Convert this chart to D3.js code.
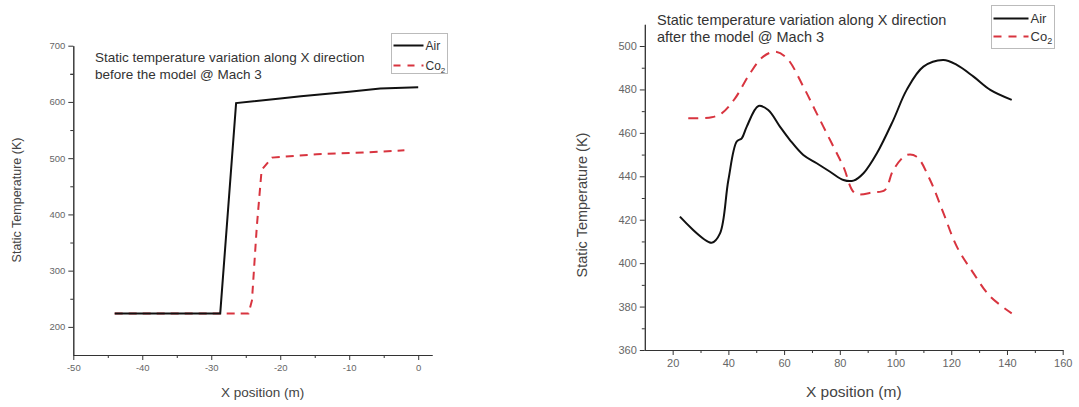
<!DOCTYPE html>
<html>
<head>
<meta charset="utf-8">
<script src="https://cdn.jsdelivr.net/npm/d3@7"></script>
<style>
  body { margin: 0; background: #fff; }
  svg { font-family: "Liberation Sans", Arial, sans-serif; }
</style>
</head>
<body>
<svg id="chart" width="1079" height="407"></svg>
<script>
// ---- data ----
// left panel: before the model
const beforeAir = [[-44, 224], [-28.7, 224], [-26.4, 598], [-20, 606], [-17, 610], [-10, 618], [-5.5, 624], [0, 626]];
const beforeCo2 = [[-44, 224], [-24.6, 224], [-24.1, 247], [-23.4, 378], [-22.7, 479], [-21.2, 501], [-14.7, 507], [-8, 510], [-2, 514]];
const beforeXTicks = [-50, -40, -30, -20, -10, 0];
const beforeYTicks = [200, 300, 400, 500, 600, 700];

// right panel: after the model
const afterAir = [[22.6, 421.4], [34, 409.4], [37, 413.7], [40, 438.3], [43, 456], [44.8, 457.5], [46.6, 462.9],
  [50.8, 472.4], [54.3, 470.5], [58.5, 462.9], [62.1, 456.7], [66.9, 449.8], [71.7, 446], [76.5, 442.1],
  [81.3, 438.3], [84.9, 438], [88.5, 441.4], [93.3, 450.6], [99.2, 465.9], [104, 479.8], [110, 490.5],
  [117.2, 493.6], [122, 491.3], [128, 485.9], [134, 479.8], [141.7, 475.2]];
const afterCo2 = [[25.6, 466.7], [34, 467.2], [37.6, 469], [42.4, 475.9], [47.8, 487.5], [52.5, 495.1],
  [56.8, 497.4], [61, 494.4], [66.9, 481.3], [71.7, 469], [77.1, 455.2], [81.3, 444.4], [85.5, 432.2],
  [92, 432.6], [96.2, 433.7], [99.2, 442.9], [104, 449.8], [107.6, 449], [112.4, 438.3], [117.2, 423],
  [122, 407.6], [128, 395.3], [134, 384.6], [141.7, 376.9]];
const afterXTicks = [20, 40, 60, 80, 100, 120, 140, 160];
const afterYTicks = [360, 380, 400, 420, 440, 460, 480, 500];

const titleLines = {
  before: ['Static temperature variation along X direction', 'before the model @ Mach 3'],
  after: ['Static temperature variation along X direction', 'after the model @ Mach 3']
};

const RED = '#d8343f';
const svg = d3.select('#chart');

function panel(cfg) {
  const x = d3.scaleLinear().domain(cfg.xDomain).range([cfg.left, cfg.right]);
  const y = d3.scaleLinear().domain(cfg.yDomain).range([cfg.bottom, cfg.top]);
  const g = svg.append('g');

  // minor ticks halfway between majors
  const half = (t) => t.slice(0, -1).map((v, i) => (v + t[i + 1]) / 2);
  const xMinor = half(cfg.xTicks).concat(cfg.xMinorExtra || []);
  const yMinor = half(cfg.yTicks).concat(cfg.yMinorExtra || []);

  g.append('g').attr('transform', `translate(0,${cfg.bottom})`)
    .call(d3.axisBottom(x).tickValues(xMinor).tickFormat('').tickSizeInner(3).tickSizeOuter(0));
  g.append('g').attr('transform', `translate(${cfg.left},0)`)
    .call(d3.axisLeft(y).tickValues(yMinor).tickFormat('').tickSizeInner(3).tickSizeOuter(0));

  // plain hyphen for negatives, like the original
  const fmt = d => String(d);
  const xa = g.append('g').attr('transform', `translate(0,${cfg.bottom})`)
    .call(d3.axisBottom(x).tickValues(cfg.xTicks).tickFormat(fmt).tickSizeInner(5).tickSizeOuter(0).tickPadding(4));
  const ya = g.append('g').attr('transform', `translate(${cfg.left},0)`)
    .call(d3.axisLeft(y).tickValues(cfg.yTicks).tickFormat(fmt).tickSizeInner(5).tickSizeOuter(0).tickPadding(3));

  g.selectAll('.domain, .tick line').attr('stroke', '#333').attr('stroke-width', 1);
  [xa, ya].forEach(a => a.selectAll('text')
    .attr('fill', '#666').style('font-size', cfg.tickFont + 'px').style('font-family', '"Liberation Sans", Arial, sans-serif'));

  // axis titles
  g.append('text')
    .attr('x', (cfg.left + cfg.right) / 2 + cfg.xTitleShift).attr('y', cfg.xTitleY)
    .attr('text-anchor', 'middle').attr('fill', '#444').style('font-size', cfg.xTitleFont + 'px')
    .text('X position (m)');
  g.append('text')
    .attr('transform', `translate(${cfg.yTitleX},${cfg.yTitleCY}) rotate(-90)`)
    .attr('text-anchor', 'middle').attr('fill', '#444').style('font-size', cfg.yTitleFont + 'px')
    .text('Static Temperature (K)');

  // series
  const line = d3.line().x(d => x(d[0])).y(d => y(d[1])).curve(cfg.curve);
  g.append('path').datum(cfg.co2).attr('d', line)
    .attr('fill', 'none').attr('stroke', RED).attr('stroke-width', 2)
    .attr('stroke-dasharray', cfg.dash);
  g.append('path').datum(cfg.air).attr('d', line)
    .attr('fill', 'none').attr('stroke', '#111').attr('stroke-width', 2);

  // title
  g.append('text').attr('x', cfg.titleX).attr('y', cfg.titleY)
    .attr('fill', '#333').style('font-size', cfg.titleFont + 'px')
    .selectAll('tspan').data(cfg.title).enter().append('tspan')
    .attr('x', cfg.titleX).attr('dy', (d, i) => i ? cfg.titleLead : 0).text(d => d);

  // legend
  const L = cfg.legend;
  const lg = g.append('g').attr('transform', `translate(${L.x},${L.y})`);
  lg.append('rect').attr('width', L.w).attr('height', L.h)
    .attr('fill', '#fff').attr('stroke', '#bbb').attr('stroke-width', 1);
  lg.append('line').attr('x1', 2).attr('x2', L.lineLen + 2).attr('y1', L.row1).attr('y2', L.row1)
    .attr('stroke', '#111').attr('stroke-width', 2);
  lg.append('line').attr('x1', 2).attr('x2', L.lineLen + 2).attr('y1', L.row2).attr('y2', L.row2)
    .attr('stroke', RED).attr('stroke-width', 2).attr('stroke-dasharray', L.dash);
  lg.append('text').attr('x', L.lineLen + 4).attr('y', L.row1 + 4)
    .attr('fill', '#333').style('font-size', L.font + 'px').text('Air');
  const co = lg.append('text').attr('x', L.lineLen + 4).attr('y', L.row2 + 4)
    .attr('fill', '#333').style('font-size', L.font + 'px');
  co.append('tspan').text('Co');
  co.append('tspan').attr('dy', 3).style('font-size', (L.font - 4) + 'px').text('2');
}

panel({
  xDomain: [-50, 2], yDomain: [150, 700],
  left: 73.3, right: 432, top: 45.7, bottom: 355,
  xTicks: beforeXTicks, yTicks: beforeYTicks, yMinorExtra: [650],
  air: beforeAir, co2: beforeCo2, curve: d3.curveLinear, dash: '8,6',
  tickFont: 9.5, xTitleFont: 13.5, yTitleFont: 12.5, xTitleShift: 10, xTitleY: 397, yTitleX: 21, yTitleCY: 200,
  title: titleLines.before, titleX: 95, titleY: 61.5, titleLead: 17.6, titleFont: 13.5,
  legend: { x: 391.5, y: 33.5, w: 56, h: 40, row1: 12, row2: 32, lineLen: 30, dash: '7,7', font: 12 }
});

panel({
  xDomain: [10, 160], yDomain: [360, 510],
  left: 644.8, right: 1062.7, top: 24.3, bottom: 350,
  xTicks: afterXTicks, yTicks: afterYTicks, xMinorExtra: [], yMinorExtra: [],
  air: afterAir, co2: afterCo2, curve: d3.curveCatmullRom, dash: '10,7',
  tickFont: 11, xTitleFont: 15.5, yTitleFont: 14.5, xTitleShift: 0, xTitleY: 397, yTitleX: 587, yTitleCY: 205,
  title: titleLines.after, titleX: 657, titleY: 25, titleLead: 17.3, titleFont: 14.5,
  legend: { x: 991.5, y: 5.5, w: 63, h: 43, row1: 13, row2: 31, lineLen: 35, dash: '8,7', font: 13 }
});
</script>
</body>
</html>
